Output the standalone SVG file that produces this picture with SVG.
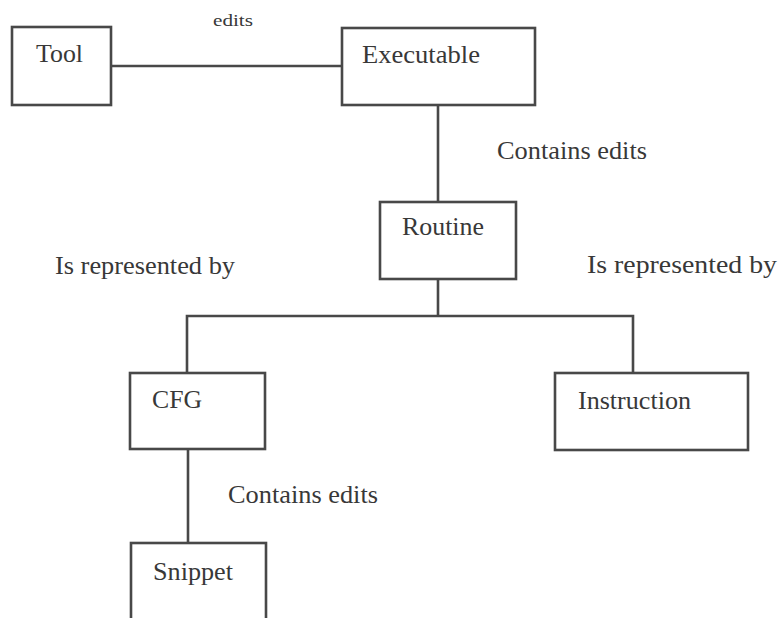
<svg xmlns="http://www.w3.org/2000/svg" width="778" height="618" viewBox="0 0 778 618">
<style>
.box{fill:#fff;stroke:#484848;stroke-width:2.6}
.ln{fill:none;stroke:#484848;stroke-width:2.6}
.t{font-family:"Liberation Serif","Times New Roman",serif;font-size:26px;fill:#383838}
.s{font-family:"Liberation Serif","Times New Roman",serif;font-size:16px;fill:#383838}
</style>
<rect width="778" height="618" fill="#fff"/>
<g id="connectors">
<line class="ln" x1="111" y1="66" x2="342" y2="66"/>
<line class="ln" x1="438" y1="105" x2="438" y2="202"/>
<line class="ln" x1="438" y1="279" x2="438" y2="316"/>
<polyline class="ln" points="187,373 187,316 633,316 633,373"/>
<line class="ln" x1="188" y1="449" x2="188" y2="543"/>
<text class="s" x="213" y="26" textLength="40" lengthAdjust="spacingAndGlyphs">edits</text>
<text class="t" x="497" y="159" textLength="150" lengthAdjust="spacingAndGlyphs">Contains edits</text>
<text class="t" x="55" y="274" textLength="180" lengthAdjust="spacingAndGlyphs">Is represented by</text>
<text class="t" x="587" y="273" textLength="190" lengthAdjust="spacingAndGlyphs">Is represented by</text>
<text class="t" x="228" y="503" textLength="150" lengthAdjust="spacingAndGlyphs">Contains edits</text>
</g>
<g id="tool">
<rect class="box" x="12" y="27" width="99" height="78"/>
<text class="t" x="36" y="62" textLength="47" lengthAdjust="spacingAndGlyphs">Tool</text>
</g>
<g id="executable">
<rect class="box" x="342" y="28" width="193" height="77"/>
<text class="t" x="362" y="63" textLength="118" lengthAdjust="spacingAndGlyphs">Executable</text>
</g>
<g id="routine">
<rect class="box" x="380" y="202" width="136" height="77"/>
<text class="t" x="402" y="235" textLength="82" lengthAdjust="spacingAndGlyphs">Routine</text>
</g>
<g id="cfg">
<rect class="box" x="130" y="373" width="135" height="76"/>
<text class="t" x="152" y="408" textLength="50" lengthAdjust="spacingAndGlyphs">CFG</text>
</g>
<g id="instruction">
<rect class="box" x="555" y="373" width="193" height="77"/>
<text class="t" x="578" y="409" textLength="113" lengthAdjust="spacingAndGlyphs">Instruction</text>
</g>
<g id="snippet">
<rect class="box" x="131" y="543" width="135" height="90"/>
<text class="t" x="153" y="580" textLength="80" lengthAdjust="spacingAndGlyphs">Snippet</text>
</g>
</svg>
